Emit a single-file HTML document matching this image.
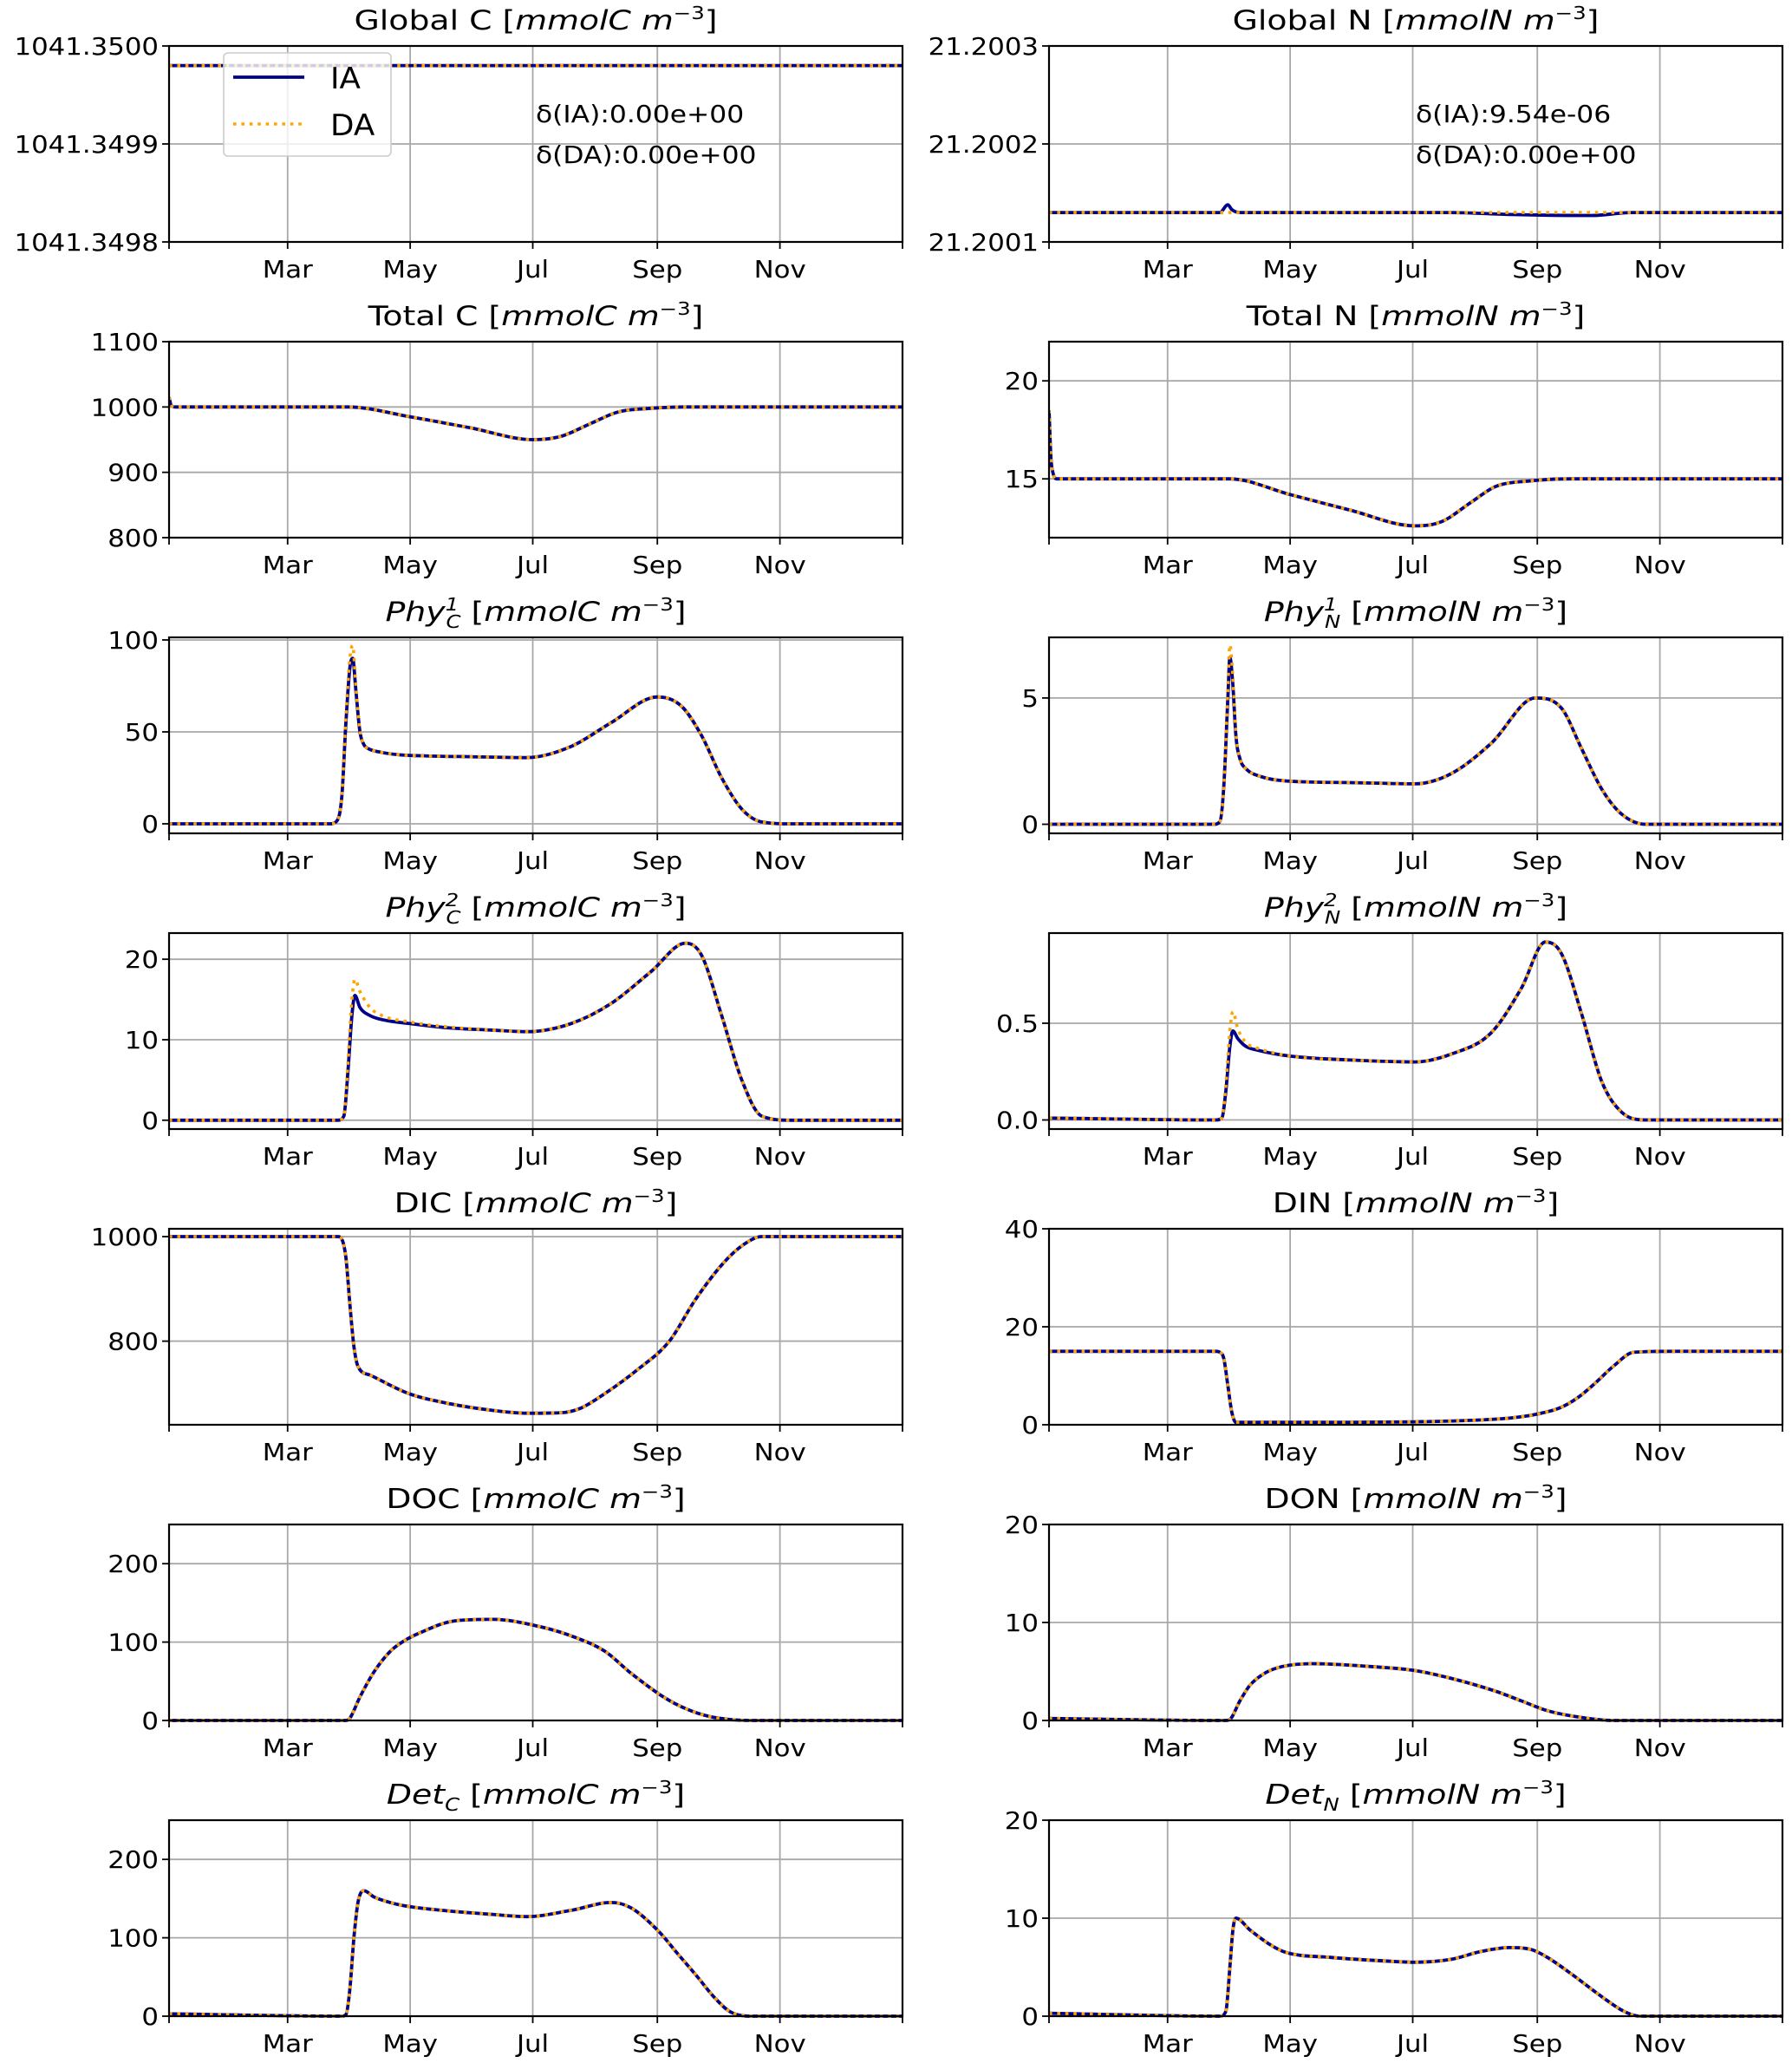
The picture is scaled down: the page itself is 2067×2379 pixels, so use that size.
<!DOCTYPE html>
<html><head><meta charset="utf-8"><style>
html,body{margin:0;padding:0;background:#fff;}
svg{display:block;font-family:"DejaVu Sans","Liberation Sans",sans-serif;}
</style></head><body>
<svg id="fig" width="2067" height="2379" viewBox="0 0 2067 2379" xmlns="http://www.w3.org/2000/svg"></svg>
<script>
// ---------- data ----------
const monthLabels = ["Mar","May","Jul","Sep","Nov"];
const monthDays = [59,120,181,243,304];

const globalCDays = [0,365];
const globalCIA = [1041.34998,1041.34998];
const globalNDays = [0,85,89,91,95,200,230,270,290,365];
const globalNIA = [21.20013,21.20013,21.200138,21.200133,21.20013,21.20013,21.200128,21.200127,21.20013,21.20013];
const globalNDA = [21.20013,21.20013,21.20013,21.20013,21.20013,21.20013,21.20013,21.20013,21.20013,21.20013];

const totalCDays = [0,1,3,60,89,120,150,181,195,210,223,240,256,300,365];
const totalCIA = [1015,1003,1000,1000,1000,985,968,950,955,975,992,998,1000,1000,1000];
const totalNDays = [0,1,2,4,60,90,120,150,182,195,210,222,240,260,300,365];
const totalNIA = [18.5,16,15.3,15,15,15,14.2,13.4,12.6,12.8,13.8,14.6,14.9,15,15,15];

const phy1CDays = [0,80,83,86,88,90,91.4,93,95,97,99,105,115,125,150,178,200,220,243,255,265,275,285,295,310,365];
const phy1CIA = [0,0,1,15,55,85,90,72,50,43,41,39,37.5,37,36.5,36,42,55,69,64,48,25,8,1,0,0];
const phy1CDA = [0,0,1,15,58,90,97,74,51,43,41,39,37.5,37,36.5,36,42,55,69,64,48,25,8,1,0,0];

const phy1NDays = [0,82,85,87,89,90,91.5,93,95,98,105,121,150,182,200,220,242,255,265,275,285,297,310,365];
const phy1NIA = [0,0,0.1,1.5,5,6.6,5.5,3.5,2.6,2.2,1.9,1.7,1.65,1.6,2,3.2,5,4.6,3,1.4,0.4,0,0,0];
const phy1NDA = [0,0,0.1,1.5,5.3,7.1,5.8,3.6,2.6,2.2,1.9,1.7,1.65,1.6,2,3.2,5,4.6,3,1.4,0.4,0,0,0];

const phy2CDays = [0,84,87,89,91,92.5,95,100,106,120,138,160,178,200,220,240,257,265,275,285,295,310,365];
const phy2CIA = [0,0,0.5,6,13,15.5,14,13,12.5,12,11.5,11.2,11,12,14.5,18.5,22,20.5,13,5,0.5,0,0];
const phy2CDA = [0,0,0.5,7,15,17.5,16,14,13,12.2,11.6,11.2,11,12,14.5,18.5,22,20.5,13,5,0.5,0,0];

const phy2NDays = [0,83,86,88,90,91.5,94,98,104,120,150,182,200,220,235,247,255,265,275,285,297,310,365];
const phy2NIA = [0.01,0,0.01,0.15,0.38,0.46,0.42,0.38,0.36,0.33,0.31,0.3,0.34,0.45,0.68,0.92,0.86,0.55,0.2,0.04,0,0,0];
const phy2NDA = [0.01,0,0.01,0.18,0.46,0.56,0.47,0.4,0.37,0.33,0.31,0.3,0.34,0.45,0.68,0.92,0.86,0.55,0.2,0.04,0,0,0];

const dicDays = [0,84,86,88,90,92,94,100,119,140,160,178,195,205,217,233,249,262,276,286,295,310,365];
const dicIA = [1000,1000,995,960,870,790,752,735,700,680,668,662,663,672,700,745,800,880,950,985,1000,1000,1000];

const dinDays = [0,83,85,87,89,91,93,120,150,182,210,230,242,255,263,271,281,291,310,365];
const dinIA = [15,15,14.8,13.5,8,2.5,0.5,0.5,0.5,0.6,0.9,1.4,2.1,3.6,5.5,8.2,12,14.8,15,15];

const docDays = [0,88,90,95,102,110,116,125,142,161,184,200,217,230,246,258,269,280,289,365];
const docIA = [0,0,3,30,62,88,100,112,127,129,120,108,88,60,30,14,5,1,0,0];

const donDays = [0,88,90,95,100,108,116,131,160,182,200,222,235,248,262,281,300,365];
const donIA = [0.2,0,0.1,2,3.6,4.9,5.5,5.8,5.5,5.1,4.3,3,2,1,0.4,0,0,0];

const detCDays = [0,86,88,90,92,94,97,102,110,119,140,160,178,200,220,230,243,253,263,271,279,290,365];
const detCIA = [3,0,2,35,100,145,160,152,145,140,134,130,127,135,145,138,110,80,50,25,6,0,0];

const detNDays = [0,85,88,90,91.5,93,100,110,118,140,170,182,200,215,229,240,248,260,275,286,294,310,365];
const detNIA = [0.3,0,0.5,5,8.8,10,8.8,7.3,6.5,6,5.6,5.5,5.8,6.6,7,6.8,6,4.3,2,0.5,0,0,0];

// ---------- layout ----------
const svg = document.getElementById('fig');
const NS = 'http://www.w3.org/2000/svg';
function mk(tag, attrs, parent){
  const e = document.createElementNS(NS, tag);
  for (const k in attrs) e.setAttribute(k, attrs[k]);
  (parent||svg).appendChild(e);
  return e;
}
function txt(parent, x, y, size, stretch, anchor, content, isHtml){
  const t = mk('text', {transform:'translate('+x+','+y+') scale('+stretch+',1)', x:0, y:0, 'font-size':size, 'text-anchor':anchor, fill:'#000'}, parent);
  if (isHtml) t.innerHTML = content; else t.textContent = content;
  return t;
}
// monotone cubic path (no overshoot)
function smoothPath(xs, ys){
  const n = xs.length;
  if (n < 3) return 'M' + xs.map((x,i)=>x.toFixed(1)+','+ys[i].toFixed(1)).join(' L');
  const d = [], m = new Array(n);
  for (let i=0;i<n-1;i++) d.push((ys[i+1]-ys[i])/(xs[i+1]-xs[i]));
  m[0]=d[0]; m[n-1]=d[n-2];
  for (let i=1;i<n-1;i++){ m[i] = (d[i-1]*d[i] <= 0) ? 0 : (d[i-1]+d[i])/2; }
  for (let i=0;i<n-1;i++){
    if (d[i]===0){ m[i]=0; m[i+1]=0; continue; }
    const a=m[i]/d[i], b=m[i+1]/d[i], s=a*a+b*b;
    if (s>9){ const t=3/Math.sqrt(s); m[i]=t*a*d[i]; m[i+1]=t*b*d[i]; }
  }
  let p = 'M'+xs[0].toFixed(1)+','+ys[0].toFixed(1);
  for (let i=0;i<n-1;i++){
    const h = xs[i+1]-xs[i];
    p += ' C'+(xs[i]+h/3).toFixed(1)+','+(ys[i]+m[i]*h/3).toFixed(1)+' '+(xs[i+1]-h/3).toFixed(1)+','+(ys[i+1]-m[i+1]*h/3).toFixed(1)+' '+xs[i+1].toFixed(1)+','+ys[i+1].toFixed(1);
  }
  return p;
}
const colX = [[195,1041],[1210,2056]];
const rowTop = i => 53 + i*341;
const H = 226;

const unitC = '[<tspan font-style="italic">mmolC m</tspan><tspan dy="-12" font-size="20">−3</tspan><tspan dy="12">]</tspan>';
const unitN = '[<tspan font-style="italic">mmolN m</tspan><tspan dy="-12" font-size="20">−3</tspan><tspan dy="12">]</tspan>';
const phyT = (sup, sub) => '<tspan font-style="italic">Phy</tspan><tspan font-style="italic" font-size="20" dy="-12">'+sup+'</tspan><tspan font-style="italic" font-size="20" dx="-12" dy="20">'+sub+'</tspan><tspan dy="-8"> </tspan>';
const detT = sub => '<tspan font-style="italic">Det</tspan><tspan font-style="italic" font-size="20" dy="8">'+sub+'</tspan><tspan dy="-8"> </tspan>';

const panels = [
 {name:'global-c',col:0,row:0,title:'Global C '+unitC,ymin:1041.3498,ymax:1041.35,ticks:[1041.3498,1041.3499,1041.35],tl:['1041.3498','1041.3499','1041.3500'],d:globalCDays,ia:globalCIA,da:globalCIA,ann:['δ(IA):0.00e+00','δ(DA):0.00e+00'],legend:true},
 {name:'global-n',col:1,row:0,title:'Global N '+unitN,ymin:21.2001,ymax:21.2003,ticks:[21.2001,21.2002,21.2003],tl:['21.2001','21.2002','21.2003'],d:globalNDays,ia:globalNIA,da:globalNDA,ann:['δ(IA):9.54e-06','δ(DA):0.00e+00']},
 {name:'total-c',col:0,row:1,title:'Total C '+unitC,ymin:800,ymax:1100,ticks:[800,900,1000,1100],tl:['800','900','1000','1100'],d:totalCDays,ia:totalCIA,da:totalCIA},
 {name:'total-n',col:1,row:1,title:'Total N '+unitN,ymin:12,ymax:22,ticks:[15,20],tl:['15','20'],d:totalNDays,ia:totalNIA,da:totalNIA},
 {name:'phy1-c',col:0,row:2,title:phyT('1','C')+unitC,ymin:-5.2,ymax:101.4,ticks:[0,50,100],tl:['0','50','100'],d:phy1CDays,ia:phy1CIA,da:phy1CDA},
 {name:'phy1-n',col:1,row:2,title:phyT('1','N')+unitN,ymin:-0.36,ymax:7.4,ticks:[0,5],tl:['0','5'],d:phy1NDays,ia:phy1NIA,da:phy1NDA},
 {name:'phy2-c',col:0,row:3,title:phyT('2','C')+unitC,ymin:-1.1,ymax:23.25,ticks:[0,10,20],tl:['0','10','20'],d:phy2CDays,ia:phy2CIA,da:phy2CDA},
 {name:'phy2-n',col:1,row:3,title:phyT('2','N')+unitN,ymin:-0.047,ymax:0.966,ticks:[0,0.5],tl:['0.0','0.5'],d:phy2NDays,ia:phy2NIA,da:phy2NDA},
 {name:'dic',col:0,row:4,title:'DIC '+unitC,ymin:640,ymax:1015,ticks:[800,1000],tl:['800','1000'],d:dicDays,ia:dicIA,da:dicIA},
 {name:'din',col:1,row:4,title:'DIN '+unitN,ymin:0,ymax:40,ticks:[0,20,40],tl:['0','20','40'],d:dinDays,ia:dinIA,da:dinIA},
 {name:'doc',col:0,row:5,title:'DOC '+unitC,ymin:0,ymax:250,ticks:[0,100,200],tl:['0','100','200'],d:docDays,ia:docIA,da:docIA},
 {name:'don',col:1,row:5,title:'DON '+unitN,ymin:0,ymax:20,ticks:[0,10,20],tl:['0','10','20'],d:donDays,ia:donIA,da:donIA},
 {name:'det-c',col:0,row:6,title:detT('C')+unitC,ymin:0,ymax:250,ticks:[0,100,200],tl:['0','100','200'],d:detCDays,ia:detCIA,da:detCIA},
 {name:'det-n',col:1,row:6,title:detT('N')+unitN,ymin:0,ymax:20,ticks:[0,10,20],tl:['0','10','20'],d:detNDays,ia:detNIA,da:detNIA}
];

panels.forEach(p => {
  const [x0,x1] = colX[p.col];
  const y0 = rowTop(p.row), y1 = y0 + H;
  const g = mk('g', {});
  
  
  const sx = d => x0 + d/365*(x1-x0);
  const sy = v => y1 - (v-p.ymin)/(p.ymax-p.ymin)*H;
  const cp = mk('clipPath', {id:'clip-'+p.name}, g);
  mk('rect', {x:x0, y:y0-4, width:x1-x0, height:H+8}, cp);
  monthDays.forEach((d,i) => {
    const l = mk('line', {x1:sx(d),x2:sx(d),y1:y0,y2:y1,stroke:'#a8a8a8','stroke-width':1.8}, g);
    
    
  });
  p.ticks.forEach((t,i) => {
    const l = mk('line', {x1:x0,x2:x1,y1:sy(t),y2:sy(t),stroke:'#a8a8a8','stroke-width':1.8}, g);
    
    
  });
  const xs = p.d.map(sx);
  const ia = mk('path', {d:smoothPath(xs, p.ia.map(sy)),fill:'none',stroke:'#00008b','stroke-width':3.8,'stroke-linejoin':'round','clip-path':'url(#clip-'+p.name+')'}, g);
  
  
  const da = mk('path', {d:smoothPath(xs, p.da.map(sy)),fill:'none',stroke:'#ffa500','stroke-width':3.6,'stroke-dasharray':'3.6 5.8','clip-path':'url(#clip-'+p.name+')'}, g);
  
  
  const fr = mk('rect', {x:x0,y:y0,width:x1-x0,height:H,fill:'none',stroke:'#000','stroke-width':2.2}, g);
  
  
  [0].concat(monthDays).concat([365]).forEach(d => {
    mk('line', {x1:sx(d),x2:sx(d),y1:y1,y2:y1+8,stroke:'#000','stroke-width':1.8}, g);
  });
  monthDays.forEach((d,i) => {
    const t = txt(g, sx(d), y1+41, 28, 1.1, 'middle', monthLabels[i]);
    
    
  });
  p.ticks.forEach((v,i) => {
    mk('line', {x1:x0-8,x2:x0,y1:sy(v),y2:sy(v),stroke:'#000','stroke-width':1.8}, g);
    const t = txt(g, x0-12, sy(v)+10, 28, 1.1, 'end', p.tl[i]);
    
    
  });
  const tt = txt(g, (x0+x1)/2, y0-19, 31, 1.22, 'middle', p.title, true);
  
  
  if (p.ann) {
    p.ann.forEach((s,i) => {
      const t = txt(g, x0+423, y0+88+i*47, 28, 1.12, 'start', s);
      
      
    });
  }
  if (p.legend) {
    const lg = mk('g', {}, g);
    
    
    mk('rect', {x:258,y:61,width:193,height:119,rx:5,fill:'#fff','fill-opacity':0.8,stroke:'#ccc','stroke-width':1.6}, lg);
    mk('line', {x1:269,x2:351,y1:89,y2:89,stroke:'#00008b','stroke-width':3.8}, lg);
    mk('line', {x1:269,x2:351,y1:143,y2:143,stroke:'#ffa500','stroke-width':3.6,'stroke-dasharray':'3.6 5.8'}, lg);
    const a = txt(lg, 381, 102, 34, 1.05, 'start', 'IA');
    
    
    const b = txt(lg, 381, 156, 34, 1.05, 'start', 'DA');
    
    
  }
});
</script>
</body></html>
